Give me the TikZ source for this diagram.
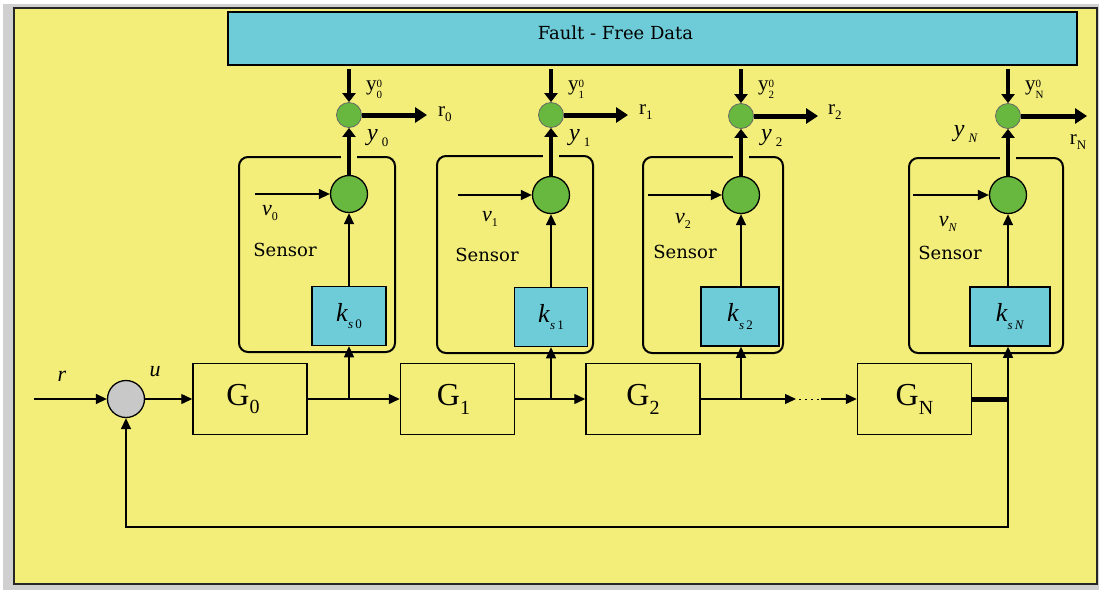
\documentclass[tikz,border=0pt]{standalone}
\usepackage{fontspec}
\setmainfont{Liberation Serif}
\newfontfamily\slab{DejaVu Serif}
\usetikzlibrary{arrows.meta}
\definecolor{bgyel}{RGB}{243,238,122}
\definecolor{cyanb}{RGB}{110,204,216}
\definecolor{grn}{RGB}{104,184,64}
\definecolor{gcirc}{RGB}{200,200,200}
\definecolor{outgray}{RGB}{208,208,208}
\newcommand\fs[1]{\fontsize{#1}{#1}\selectfont}
\newcommand\yref[1]{{\fs{21}y\raisebox{-0.36em}{\fs{11}\shortstack[l]{0\\[0.5pt]#1}}}}
\newcommand\rlab[1]{{\fs{21}r\raisebox{-0.25em}{\fs{13}#1}}}
\newcommand\ylab[1]{{\fs{24}\textit{y}\,\raisebox{-0.25em}{\fs{13}#1}}}
\newcommand\vlab[1]{{\fs{22}\textit{v}\raisebox{-0.25em}{\fs{12}#1}}}
\newcommand\klab[1]{{\fs{26}\textit{k}\raisebox{-0.3em}{\fs{13}\textit{s}\,#1}}}
\newcommand\glab[1]{{\fs{32}G\raisebox{-0.28em}{\fs{20}#1}}}
\begin{document}
\begin{tikzpicture}[x=1pt,y=-1pt,
  lw/.style={line width=1.4pt},
  arr/.style={lw,-{Triangle[length=11pt,width=10pt]}},
  thk/.style={line width=4.5pt,-{Triangle[length=9pt,width=13pt]}},
  thkr/.style={line width=5pt,-{Triangle[length=12pt,width=15pt]}},
  halo/.style={preaction={draw=bgyel,line width=16pt,-}},
  gbox/.style={draw,line width=1.5pt,fill=bgyel,minimum width=114pt,minimum height=71pt,inner sep=0pt},
  kbox/.style={draw,line width=1.5pt,fill=cyanb,minimum height=59pt,inner sep=0pt},
  sens/.style={draw,line width=2pt,rounded corners=9pt,inner sep=0pt},
  bigc/.style={circle,draw,line width=1.3pt,fill=grn,minimum size=37pt,inner sep=0pt},
  smc/.style={circle,draw=black!60,line width=0.8pt,fill=grn,minimum size=25pt,inner sep=0pt},
  txt/.style={inner sep=0pt},
  sensl/.style={inner sep=0pt,font=\slab\fs{18}}]
\useasboundingbox (0,0) rectangle (1099,590);
\fill[white] (0,0) rectangle (1099,590);
\fill[outgray] (3,4) rectangle (1099,590);
\draw[fill=bgyel,line width=1.5pt,draw=black!85] (14,8) rectangle (1097,584);

% Fault-free data
\node[draw,line width=2pt,fill=cyanb,minimum width=849pt,minimum height=53pt,inner sep=0pt] (F) at (652.5,38.5) {};
\node[txt,font=\slab\fs{18}] (Ft) at (615.5,33) {Fault - Free Data};

% ---------- column 0
\node[sens,minimum width=156pt,minimum height=195pt] (S0) at (317,254.5) {};
\node[kbox,minimum width=74pt] (K0) at (349,316) {\klab{0}};
\node[bigc] (B0) at (349,194) {};
\node[smc] (C0) at (349,115) {};
\coordinate (I0) at (255,194);
\draw[arr] (I0) -- (B0);
\draw[arr] (K0) -- (B0);
\draw[thk,halo] (B0) -- (C0);
\path (F.south -| C0) ++(0,3) coordinate (T0);
\draw[thk] (T0) -- (C0);
\coordinate (RE0) at (427,115);
\draw[thkr] (C0) -- (RE0);
\node[txt,anchor=west] (Y00) at (366,89) {\yref{0}};
\node[txt,anchor=west] (R0) at (438,114) {\rlab{0}};
\node[txt,anchor=west] (Y0) at (367,138) {\ylab{0}};
\node[txt] (V0) at (270,213) {\vlab{0}};
\node[sensl] (SL0) at (285,250) {Sensor};

% ---------- column 1
\node[sens,minimum width=156pt,minimum height=197pt] (S1) at (515,254.5) {};
\node[kbox,minimum width=73pt] (K1) at (551,317) {\klab{1}};
\node[bigc] (B1) at (551,195) {};
\node[smc] (C1) at (551,115) {};
\coordinate (I1) at (458,195);
\draw[arr] (I1) -- (B1);
\draw[arr] (K1) -- (B1);
\draw[thk,halo] (B1) -- (C1);
\path (F.south -| C1) ++(0,3) coordinate (T1);
\draw[thk] (T1) -- (C1);
\coordinate (RE1) at (628,115);
\draw[thkr] (C1) -- (RE1);
\node[txt,anchor=west] (Y10) at (568,89) {\yref{1}};
\node[txt,anchor=west] (R1) at (639,112) {\rlab{1}};
\node[txt,anchor=west] (Y1) at (569,138) {\ylab{1}};
\node[txt] (V1) at (490,219) {\vlab{1}};
\node[sensl] (SL1) at (487,255) {Sensor};

% ---------- column 2
\node[sens,minimum width=140pt,minimum height=196pt] (S2) at (713,255) {};
\node[kbox,minimum width=78pt] (K2) at (740,316.5) {\klab{2}};
\node[bigc] (B2) at (741,195) {};
\node[smc] (C2) at (741,116) {};
\coordinate (I2) at (648,195);
\draw[arr] (I2) -- (B2);
\draw[arr] (K2.north -| B2) -- (B2);
\draw[thk,halo] (B2) -- (C2);
\path (F.south -| C2) ++(0,3) coordinate (T2);
\draw[thk] (T2) -- (C2);
\coordinate (RE2) at (818,116);
\draw[thkr] (C2) -- (RE2);
\node[txt,anchor=west] (Y20) at (758,89) {\yref{2}};
\node[txt,anchor=west] (R2) at (828,112) {\rlab{2}};
\node[txt,anchor=west] (Y2) at (761,138) {\ylab{2}};
\node[txt] (V2) at (683,221) {\vlab{2}};
\node[sensl] (SL2) at (685,252) {Sensor};

% ---------- column N
\node[sens,minimum width=154pt,minimum height=195pt] (SN) at (986,255.5) {};
\node[kbox,minimum width=80pt] (KN) at (1010,316.5) {\klab{\textit{N}}};
\node[bigc] (BN) at (1008,195) {};
\node[smc] (CN) at (1008,116) {};
\coordinate (IN) at (913,195);
\draw[arr] (IN) -- (BN);
\draw[arr] (KN.north -| BN) -- (BN);
\draw[thk,halo] (BN) -- (CN);
\path (F.south -| CN) ++(0,3) coordinate (TN);
\draw[thk] (TN) -- (CN);
\coordinate (REN) at (1087,116);
\draw[thkr] (CN) -- (REN);
\node[txt,anchor=west] (YN0) at (1025,89) {\yref{N}};
\node[txt] (RN) at (1078,142) {\rlab{N}};
\node[txt,anchor=east] (YN) at (978,134) {\ylab{\textit{N}}};
\node[txt] (VN) at (948,224) {\vlab{\textit{N}}};
\node[sensl] (SLN) at (950,253) {Sensor};

% ---------- main chain
\node[circle,draw,line width=1.3pt,fill=gcirc,minimum size=37pt,inner sep=0pt] (Sum) at (126,399) {};
\coordinate (Rin) at (34,399);
\draw[arr] (Rin) -- (Sum);
\node[txt] (rl) at (62,376) {\fs{22}\textit{r}};
\node[txt] (ul) at (155,372) {\fs{22}\textit{u}};
\node[gbox] (G0) at (250,399) {\hspace*{-14pt}\glab{0}};
\node[gbox] (G1) at (457.5,399) {\hspace*{-8pt}\glab{1}};
\node[gbox] (G2) at (643,399) {\glab{2}};
\node[gbox] (GN) at (914.5,399) {\glab{N}};
\draw[arr] (Sum) -- (G0);
\draw[arr] (G0) -- (G1);
\draw[arr] (G0.east -| K0) -- (K0);
\draw[arr] (G1) -- (G2);
\draw[arr] (G1.east -| K1) -- (K1);
\coordinate (D1) at (796,399);
\coordinate (D2) at (799,399);
\coordinate (D3) at (821,399);
\draw[arr] (G2) -- (D1);
\draw[arr] (G2.east -| B2) -- (K2.south -| B2);
\draw[line width=1pt,dash pattern=on 2pt off 4pt] (D2) -- (D3);
\draw[arr] (D3) -- (GN);
\coordinate (JN) at (1008,399);
\coordinate (FB1) at (1008,527);
\coordinate (FB2) at (126,527);
\draw[arr] (JN) -- (KN.south -| JN);
\draw[arr] (JN) -- (FB1) -- (FB2) -- (Sum);
\draw[line width=5pt] (GN.east) -- (JN);
\end{tikzpicture}
\end{document}
